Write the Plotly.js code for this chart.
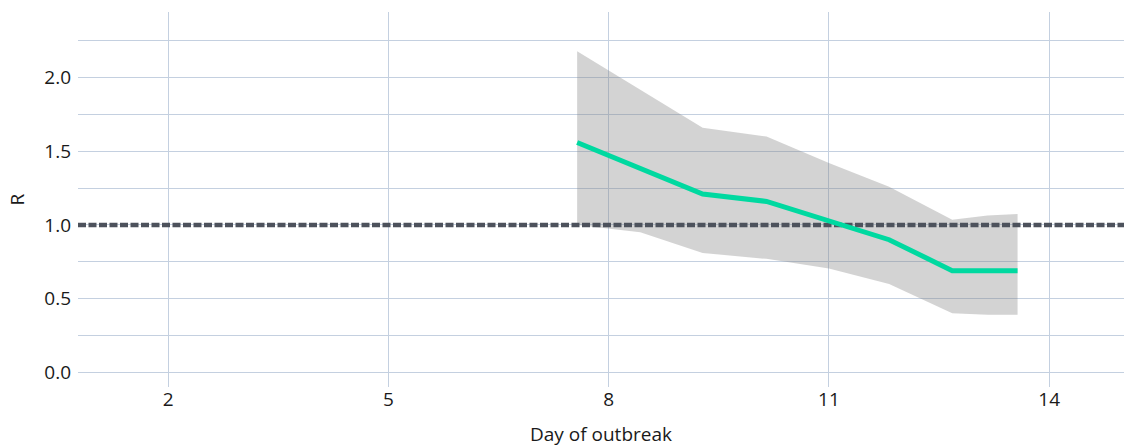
<!DOCTYPE html>
<html>
<head>
<meta charset="utf-8">
<script src="https://cdn.plot.ly/plotly-3.0.1.min.js"></script>
<style>html,body{margin:0;padding:0;background:#fff;}#chart{width:1124px;height:447px;}</style>
</head>
<body>
<div id="chart"></div>
<script>
// Data
const day = [7.57, 8.43, 9.28, 10.15, 11.0, 11.82, 12.68, 13.16, 13.57];
const rMean = [1.56, 1.385, 1.21, 1.16, 1.03, 0.90, 0.69, 0.69, 0.69];
const rUpper = [2.18, 1.92, 1.66, 1.60, 1.42, 1.26, 1.035, 1.065, 1.075];
const rLower = [1.00, 0.95, 0.81, 0.77, 0.705, 0.60, 0.40, 0.39, 0.39];
const thresholdR = 1;
const xRange = [0.77, 15.02];
const yRange = [-0.1, 2.446];
const xTicks = [2, 5, 8, 11, 14];

const font = {family: "Open Sans, sans-serif", size: 19, color: "#1a1a1a"};
const gridColor = "#c4d0e0";

const traces = [
  {x: day, y: rUpper, mode: "lines", line: {width: 0}, hoverinfo: "skip", showlegend: false},
  {x: day, y: rLower, mode: "lines", line: {width: 0}, fill: "tonexty",
   fillcolor: "rgba(128,128,128,0.35)", hoverinfo: "skip", showlegend: false},
  {x: xRange, y: [thresholdR, thresholdR], mode: "lines",
   line: {color: "#4d525c", width: 4.5, dash: "8px,2.5px"}, showlegend: false},
  {x: day, y: rMean, mode: "lines", line: {color: "#00d9a0", width: 5}, showlegend: false}
];

const layout = {
  width: 1124, height: 447,
  margin: {l: 78, r: 0, t: 12, b: 60},
  paper_bgcolor: "#fff", plot_bgcolor: "#fff",
  font: font,
  showlegend: false,
  xaxis: {
    range: xRange, tickvals: xTicks, ticktext: xTicks.map(String),
    showgrid: true, gridcolor: gridColor, gridwidth: 1,
    zeroline: false, showline: false, ticks: "",
    ticklabelstandoff: -1,
    tickfont: font,
    title: {text: "Day of outbreak", font: font, standoff: 22}
  },
  yaxis: {
    range: yRange, tick0: 0, dtick: 0.5, tickformat: ".1f",
    showgrid: true, gridcolor: gridColor, gridwidth: 1,
    minor: {dtick: 0.25, tick0: 0, showgrid: true, gridcolor: gridColor, gridwidth: 1},
    zeroline: false, showline: false, ticks: "",
    ticklabelstandoff: 6,
    tickfont: font,
    title: {text: "R", font: font, standoff: 14}
  }
};

Plotly.newPlot("chart", traces, layout, {displayModeBar: false, staticPlot: true});
</script>
</body>
</html>
